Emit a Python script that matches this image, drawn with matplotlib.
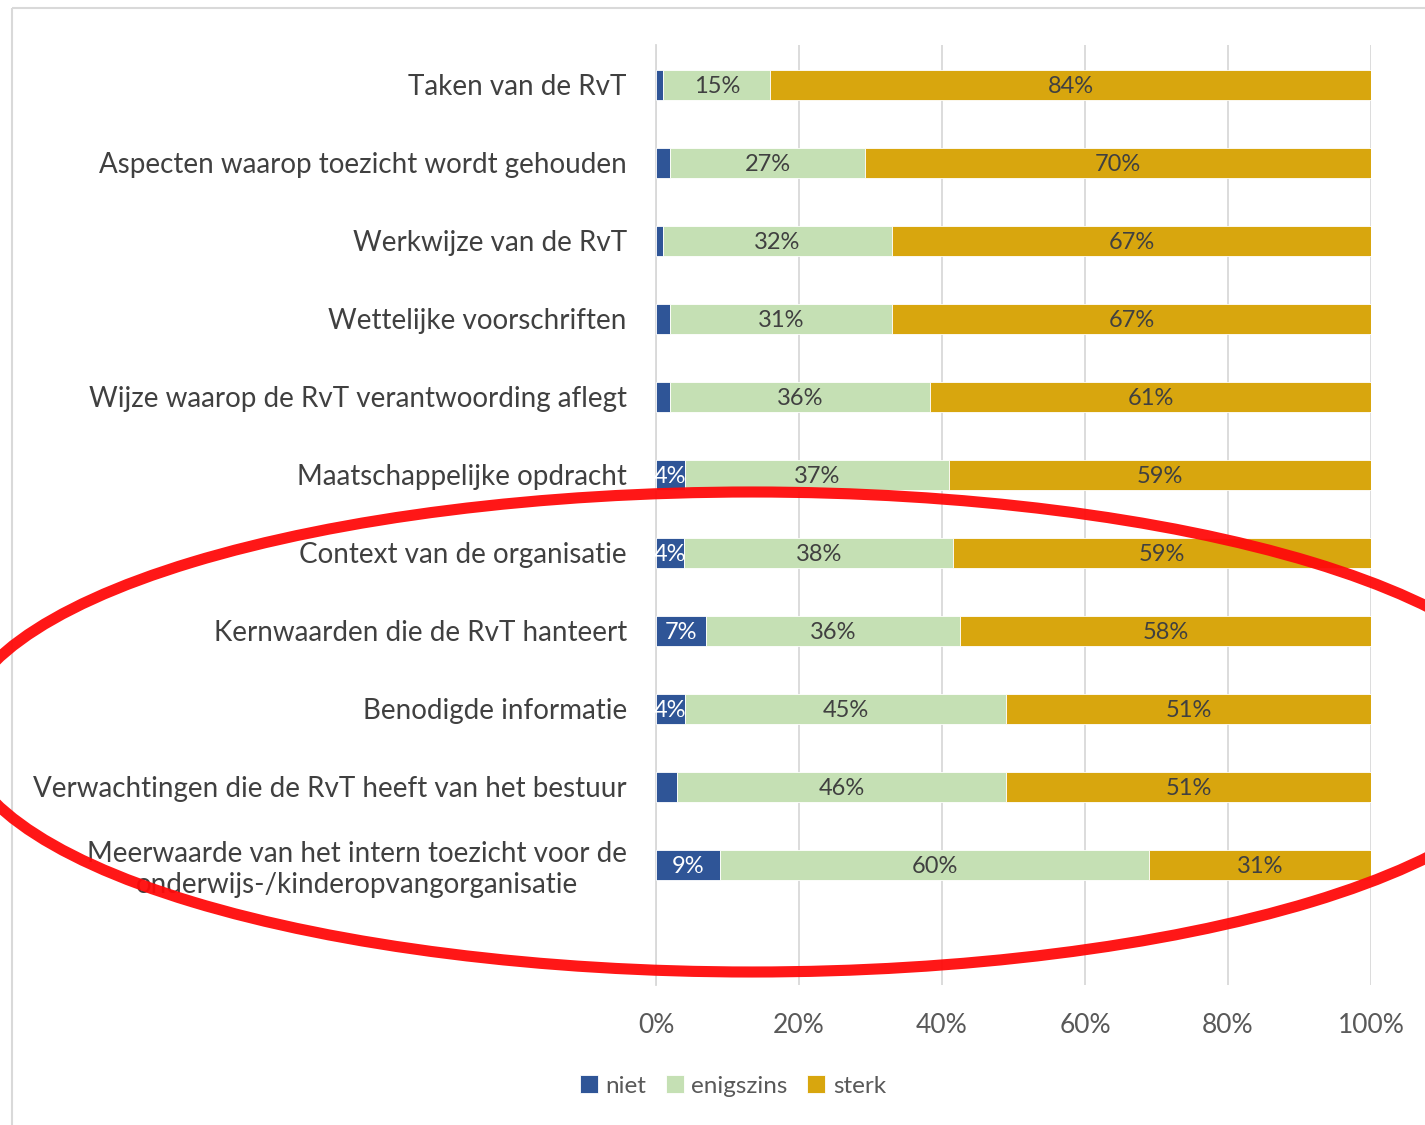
import numpy as np
import matplotlib
matplotlib.use("Agg")
import matplotlib.pyplot as plt
from matplotlib.patches import Ellipse, Rectangle

# data (percent, as labelled in the chart)
categories = [
    "Taken van de RvT",
    "Aspecten waarop toezicht wordt gehouden",
    "Werkwijze van de RvT",
    "Wettelijke voorschriften",
    "Wijze waarop de RvT verantwoording aflegt",
    "Maatschappelijke opdracht",
    "Context van de organisatie",
    "Kernwaarden die de RvT hanteert",
    "Benodigde informatie",
    "Verwachtingen die de RvT heeft van het bestuur",
    "Meerwaarde van het intern toezicht voor de\nonderwijs-/kinderopvangorganisatie",
]
niet = [1, 2, 1, 2, 2, 4, 4, 7, 4, 3, 9]
enigszins = [15, 27, 32, 31, 36, 37, 38, 36, 45, 46, 60]
sterk = [84, 70, 67, 67, 61, 59, 59, 58, 51, 51, 31]
series_names = ["niet", "enigszins", "sterk"]
xticks = [0, 20, 40, 60, 80, 100]

colors = ["#2F5597", "#C5E0B4", "#D8A60E"]
label_colors = ["white", "#404040", "#404040"]

plt.rcParams['font.family'] = ['Lato', 'DejaVu Sans']

W, H = 1425, 1125
fig = plt.figure(figsize=(W / 100, H / 100), dpi=100)
ax = fig.add_axes([656 / W, 1 - 985 / H, (1371 - 656) / W, (985 - 45) / H])

data = np.array([niet, enigszins, sterk], dtype=float)
totals = data.sum(axis=0)
shares = data / totals * 100
y = np.arange(len(categories))

left = np.zeros(len(categories))
for i in range(3):
    bars = ax.barh(y, shares[i], left=left, height=0.39, color=colors[i],
                   edgecolor="white", linewidth=0.6, label=series_names[i], zorder=3)
    for j, b in enumerate(bars):
        v = data[i, j]
        if i == 0 and v < 4:
            continue
        ax.text(left[j] + shares[i, j] / 2, y[j] + 0.02, f"{int(v)}%", ha="center", va="center",
                fontsize=17, color=label_colors[i], zorder=4)
    left += shares[i]

ax.set_xlim(0, 100)
ax.set_ylim(len(categories) - 1 + 1.54, -0.51)
ax.set_yticks(y)
ax.set_yticklabels(categories, fontsize=20, color="#404040", multialignment="center")
ax.set_xticks(xticks)
ax.set_xticklabels([f"{t}%" for t in xticks], fontsize=19, color="#595959")
ax.tick_params(axis="y", length=0, pad=21)
ax.tick_params(axis="x", length=0, pad=20)
ax.grid(axis="x", color="#D9D9D9", linewidth=1.3, zorder=0)
for s in ["top", "right", "bottom"]:
    ax.spines[s].set_visible(False)
ax.spines["left"].set_color("#D9D9D9")
ax.spines["left"].set_linewidth(1.3)

leg = fig.legend(loc="center", bbox_to_anchor=(733 / W, 1 - 1086 / H), ncol=3, frameon=False,
                 fontsize=17.5, handlelength=0.75, handleheight=0.75, handletextpad=0.3,
                 columnspacing=0.8)
for t in leg.get_texts():
    t.set_color("#595959")

# overlay in pixel coordinates for border and the red marker ellipse
over = fig.add_axes([0, 0, 1, 1], zorder=10)
over.set_xlim(0, W)
over.set_ylim(H, 0)
over.axis("off")
over.patch.set_alpha(0)
over.add_patch(Rectangle((12, 8), W + 50, H - 4, fill=False, edgecolor="#D9D9D9", linewidth=1.5))
over.add_patch(Ellipse((752, 732), 1584, 480, angle=0, fill=False, edgecolor="#FF0A0A",
                       linewidth=8, alpha=0.95))

fig.savefig("out.png", dpi=100)
